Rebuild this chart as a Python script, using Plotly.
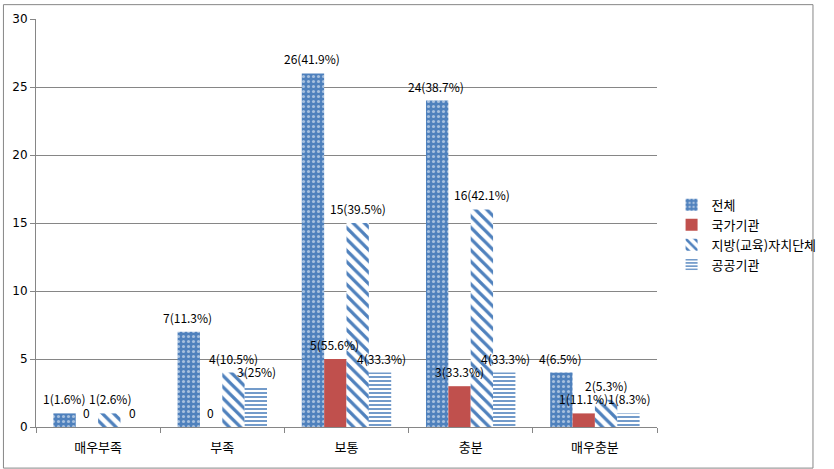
import plotly.graph_objects as go

categories = ["매우부족", "부족", "보통", "충분", "매우충분"]
total = [1, 7, 26, 24, 4]
total_pct = ["1.6%", "11.3%", "41.9%", "38.7%", "6.5%"]
national = [0, 0, 5, 3, 1]
national_pct = [None, None, "55.6%", "33.3%", "11.1%"]
local = [1, 4, 15, 16, 2]
local_pct = ["2.6%", "10.5%", "39.5%", "42.1%", "5.3%"]
public = [0, 3, 4, 4, 1]
public_pct = [None, "25%", "33.3%", "33.3%", "8.3%"]

def labels(vals, pcts):
    return [f"{v}({p})" if p else f"{v}" for v, p in zip(vals, pcts)]

BLUE = "#4F81BD"
RED = "#C0504D"
FONT = "Noto Sans CJK KR"

L, R, T, B = 34, 161, 15, 42
W, H = 834, 469
pw, ph = W - L - R, H - T - B
BARGAP = 0.28

series = [
    ("전체", total, total_pct, dict(color=BLUE, line=dict(width=0),
        pattern=dict(shape=".", fgcolor="white", bgcolor=BLUE, fillmode="overlay", size=5, solidity=0.3))),
    ("국가기관", national, national_pct, dict(color=RED, line=dict(width=0))),
    ("지방(교육)자치단체", local, local_pct, dict(color=BLUE, line=dict(width=0),
        pattern=dict(shape="\\", fgcolor=BLUE, bgcolor="white", fillmode="replace", size=8, solidity=0.4))),
    ("공공기관", public, public_pct, dict(color=BLUE, line=dict(width=0),
        pattern=dict(shape="-", fgcolor=BLUE, bgcolor="white", fillmode="replace", size=4, solidity=0.4))),
]

fig = go.Figure()
annotations = []
n = len(series)
bar_px = pw / len(categories) * (1 - BARGAP) / n
for i, (name, vals, pcts, marker) in enumerate(series):
    fig.add_trace(go.Bar(name=name, x=categories, y=vals, marker=marker))
    shift = (i - (n - 1) / 2) * bar_px
    for c, v, t in zip(categories, vals, labels(vals, pcts)):
        annotations.append(dict(x=c, y=v, xref="x", yref="y", text=t, showarrow=False,
                                xanchor="center", yanchor="bottom", xshift=shift, yshift=4,
                                font=dict(family=FONT, size=12, color="black")))

fig.update_layout(
    width=W, height=H,
    margin=dict(l=L, r=R, t=T, b=B),
    paper_bgcolor="white", plot_bgcolor="white",
    barmode="group", bargap=BARGAP, bargroupgap=0,
    font=dict(family=FONT, size=12, color="black"),
    legend=dict(x=(688 - L) / pw, y=(427 - 233) / ph, xanchor="left", yanchor="middle",
                font=dict(family=FONT, size=13), itemwidth=30, tracegroupgap=4,
                bgcolor="rgba(0,0,0,0)"),
    showlegend=True,
    annotations=annotations,
    xaxis=dict(showline=True, linecolor="#868686", linewidth=1, ticks="outside",
               tickson="boundaries", ticklen=5, tickcolor="#868686", ticklabelstandoff=8,
               tickfont=dict(family=FONT, size=13), showgrid=False),
    yaxis=dict(range=[0, 30], dtick=5, showline=True, linecolor="#868686", linewidth=1,
               ticks="outside", ticklen=5, tickcolor="#868686", showgrid=True,
               gridcolor="#868686", gridwidth=1, zeroline=False,
               tickfont=dict(family="DejaVu Sans", size=12)),
    shapes=[dict(type="rect", xref="paper", yref="paper",
                 x0=(0.5 - L) / pw, x1=(W - 0.5 - L) / pw,
                 y0=-(B - 0.5) / ph, y1=(H - B - 0.5) / ph,
                 line=dict(color="#868686", width=1), fillcolor="rgba(0,0,0,0)", layer="above")],
)

fig.write_html("out.html")
